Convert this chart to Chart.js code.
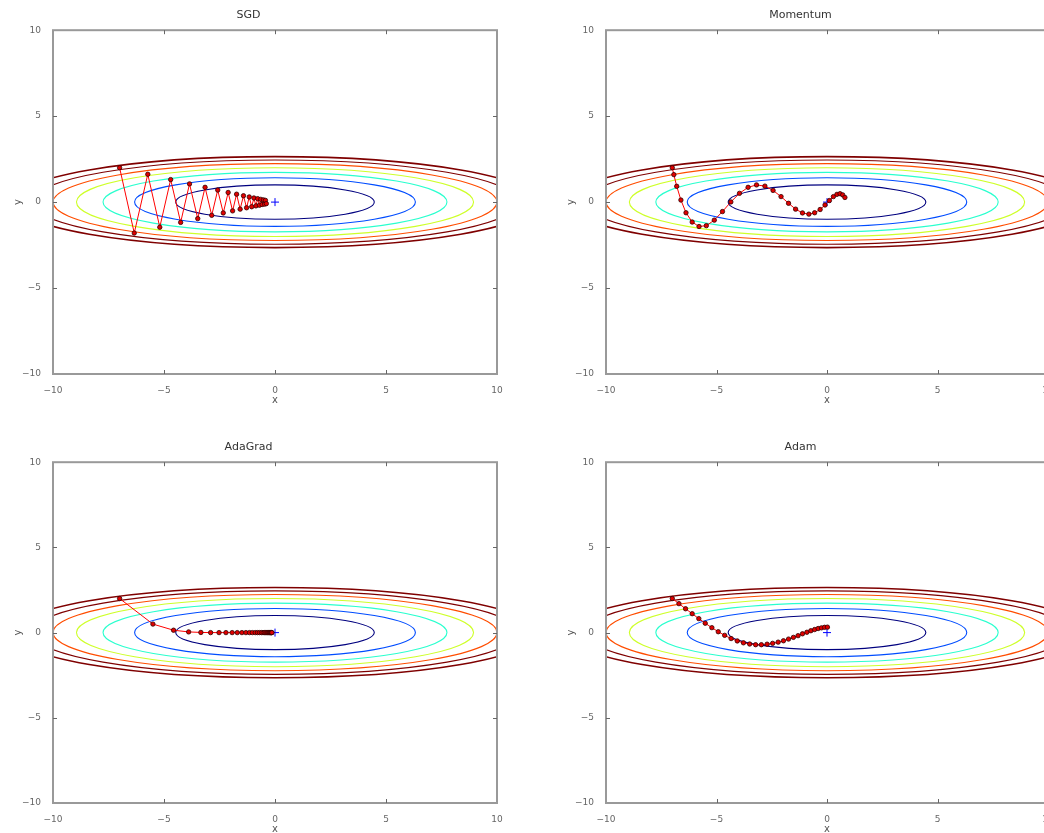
<!DOCTYPE html>
<html>
<head>
<meta charset="utf-8">
<script src="https://cdn.jsdelivr.net/npm/chart.js@4.4.1/dist/chart.umd.min.js"></script>
<style>
html, body { margin: 0; padding: 0; background: #fff; overflow: hidden; width: 1044px; height: 833px; }
.panel { position: absolute; }
</style>
</head>
<body>
<div class="panel" style="left:0;top:0"><canvas id="c-sgd" width="520" height="410"></canvas></div>
<div class="panel" style="left:553px;top:0"><canvas id="c-momentum" width="518" height="410"></canvas></div>
<div class="panel" style="left:0;top:432px"><canvas id="c-adagrad" width="520" height="407"></canvas></div>
<div class="panel" style="left:553px;top:432px"><canvas id="c-adam" width="518" height="407"></canvas></div>
<script>
// f(x, y) = x^2 / fDivisor + y^2, contour lines at these levels, masked above maskLevel
const fDivisor = 20;
const contourLevels = [1, 2, 3, 4, 5, 6];
const levelColors = ['#00007f', '#004cff', '#29ffce', '#ceff29', '#ff4d00', '#7f0000'];
const maskLevel = 7;

const xTicks = [-10, -5, 0, 5, 10];
const yTicks = [-10, -5, 0, 5, 10];

const sgdX = [-7.00, -6.34, -5.73, -5.19, -4.70, -4.25, -3.85, -3.48, -3.15, -2.85, -2.58, -2.33, -2.11, -1.91, -1.73,
              -1.57, -1.42, -1.28, -1.16, -1.05, -0.95, -0.86, -0.78, -0.70, -0.64, -0.58, -0.52, -0.47, -0.43, -0.39];
const sgdY = [2.00, -1.80, 1.62, -1.46, 1.31, -1.18, 1.06, -0.96, 0.86, -0.77, 0.70, -0.63, 0.56, -0.51, 0.46,
              -0.41, 0.37, -0.33, 0.30, -0.27, 0.24, -0.22, 0.20, -0.18, 0.16, -0.14, 0.13, -0.12, 0.10, -0.09];

const momentumX = [-7.00, -6.93, -6.80, -6.61, -6.38, -6.10, -5.79, -5.46, -5.10, -4.73, -4.35, -3.96, -3.57, -3.19, -2.81,
                   -2.44, -2.08, -1.74, -1.42, -1.11, -0.82, -0.56, -0.31, -0.09, 0.11, 0.29, 0.45, 0.59, 0.71, 0.81];
const momentumY = [2.00, 1.60, 0.92, 0.12, -0.62, -1.16, -1.42, -1.37, -1.05, -0.55, 0.01, 0.51, 0.86, 1.00, 0.93,
                   0.68, 0.32, -0.07, -0.41, -0.63, -0.70, -0.62, -0.43, -0.17, 0.09, 0.32, 0.45, 0.49, 0.42, 0.27];

const adagradX = [-7.00, -5.50, -4.57, -3.89, -3.34, -2.90, -2.52, -2.21, -1.93, -1.70, -1.49, -1.31, -1.15, -1.02, -0.89,
                  -0.79, -0.70, -0.61, -0.54, -0.48, -0.42, -0.37, -0.33, -0.29, -0.25, -0.22, -0.20, -0.17, -0.15, -0.14];
const adagradY = [2.00, 0.50, 0.14, 0.04, 0.01, 0.00, 0.00, 0.00, 0.00, 0.00, 0.00, 0.00, 0.00, 0.00, 0.00,
                  0.00, 0.00, 0.00, 0.00, 0.00, 0.00, 0.00, 0.00, 0.00, 0.00, 0.00, 0.00, 0.00, 0.00, 0.00];

const adamX = [-7.00, -6.70, -6.40, -6.10, -5.80, -5.51, -5.21, -4.92, -4.63, -4.34, -4.06, -3.78, -3.50, -3.23, -2.97,
               -2.71, -2.46, -2.21, -1.97, -1.74, -1.52, -1.31, -1.11, -0.91, -0.73, -0.56, -0.40, -0.25, -0.11, 0.02];
const adamY = [2.00, 1.70, 1.40, 1.11, 0.82, 0.55, 0.29, 0.05, -0.16, -0.35, -0.49, -0.60, -0.67, -0.71, -0.71,
               -0.68, -0.63, -0.56, -0.48, -0.38, -0.28, -0.18, -0.07, 0.02, 0.11, 0.18, 0.24, 0.28, 0.31, 0.32];

const panels = [
    { id: 'c-sgd', title: 'SGD', xs: sgdX, ys: sgdY },
    { id: 'c-momentum', title: 'Momentum', xs: momentumX, ys: momentumY },
    { id: 'c-adagrad', title: 'AdaGrad', xs: adagradX, ys: adagradY },
    { id: 'c-adam', title: 'Adam', xs: adamX, ys: adamY }
];

const fmtTick = v => (v < 0 ? '\u2212' + Math.abs(v) : String(v));

const contourPlugin = {
    id: 'contours',
    beforeDatasetsDraw(chart) {
        const { ctx, chartArea: a, scales: { x, y } } = chart;
        const cx = x.getPixelForValue(0), cy = y.getPixelForValue(0);
        const drawLevel = (lv, color, w) => {
            const rx = x.getPixelForValue(Math.sqrt(fDivisor * lv)) - cx;
            const ry = cy - y.getPixelForValue(Math.sqrt(lv));
            ctx.beginPath();
            ctx.ellipse(cx, cy, rx, ry, 0, 0, Math.PI * 2);
            ctx.strokeStyle = color;
            ctx.lineWidth = w;
            ctx.stroke();
        };
        ctx.save();
        ctx.beginPath(); ctx.rect(a.left, a.top, a.width, a.height); ctx.clip();
        contourLevels.forEach((lv, i) => drawLevel(lv, levelColors[i], 1.1));
        // the masked edge: every level crosses there, the last one ends on top
        drawLevel(maskLevel, levelColors[levelColors.length - 1], 1.6);
        ctx.restore();
    },
    afterDraw(chart) {
        const { ctx, chartArea: a, scales: { x, y } } = chart;
        ctx.save();
        ctx.strokeStyle = '#999';
        ctx.lineWidth = 2;
        ctx.strokeRect(a.left, a.top, a.width, a.height);
        ctx.strokeStyle = '#666';
        ctx.lineWidth = 1;
        ctx.beginPath();
        xTicks.slice(1, -1).forEach(v => {
            const px = Math.round(x.getPixelForValue(v)) + 0.5;
            ctx.moveTo(px, a.bottom); ctx.lineTo(px, a.bottom - 4);
            ctx.moveTo(px, a.top); ctx.lineTo(px, a.top + 4);
        });
        yTicks.slice(1, -1).forEach(v => {
            const py = Math.round(y.getPixelForValue(v)) + 0.5;
            ctx.moveTo(a.left, py); ctx.lineTo(a.left + 4, py);
            ctx.moveTo(a.right, py); ctx.lineTo(a.right - 4, py);
        });
        ctx.stroke();
        ctx.restore();
    }
};

function makeChart(p) {
    const ctx = document.getElementById(p.id).getContext('2d');
    return new Chart(ctx, {
        type: 'scatter',
        data: {
            datasets: [{
                data: p.xs.map((v, i) => ({ x: v, y: p.ys[i] })),
                showLine: true,
                borderColor: '#ff0000',
                borderWidth: 1,
                pointBackgroundColor: '#e00000',
                pointBorderColor: '#300000',
                pointBorderWidth: 0.8,
                pointRadius: 2.2
            }, {
                data: [{ x: 0, y: 0 }],
                pointStyle: 'cross',
                pointRadius: 4,
                borderColor: '#0000ff',
                borderWidth: 1
            }]
        },
        options: {
            responsive: false, animation: false,
            layout: { padding: { left: 0, right: 23, top: 0, bottom: 0 } },
            plugins: {
                legend: { display: false }, tooltip: { enabled: false },
                title: { display: true, text: p.title, color: '#333', font: { family: 'DejaVu Sans', size: 11, weight: 'normal' },
                         padding: { top: 9, bottom: 8 } }
            },
            scales: {
                x: {
                    type: 'linear', min: -10, max: 10,
                    afterBuildTicks: s => { s.ticks = xTicks.map(v => ({ value: v })); },
                    afterFit: s => { s.height = 36; },
                    grid: { display: false }, border: { display: false },
                    ticks: { color: '#666', font: { family: 'DejaVu Sans', size: 9 }, padding: 3, maxRotation: 0, callback: fmtTick },
                    title: { display: true, text: 'x', color: '#555', font: { family: 'DejaVu Sans', size: 10 }, padding: { top: 2, bottom: 4 } }
                },
                y: {
                    type: 'linear', min: -10, max: 10,
                    afterBuildTicks: s => { s.ticks = yTicks.map(v => ({ value: v })); },
                    afterFit: s => { s.width = 53; },
                    grid: { display: false }, border: { display: false },
                    ticks: { color: '#666', font: { family: 'DejaVu Sans', size: 9 }, padding: 4, callback: fmtTick },
                    title: { display: true, text: 'y', color: '#555', font: { family: 'DejaVu Sans', size: 10 }, padding: { top: 12, bottom: 4 } }
                }
            }
        },
        plugins: [contourPlugin]
    });
}

panels.forEach(makeChart);
</script>
</body>
</html>
